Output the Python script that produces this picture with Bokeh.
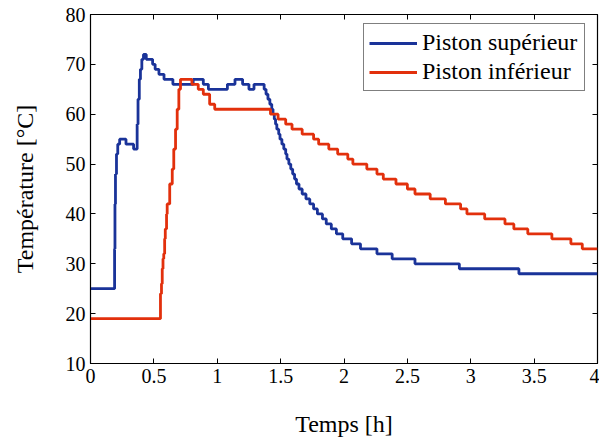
from bokeh.plotting import figure
from bokeh.models import FixedTicker, LinearAxis, Range1d, Legend, LegendItem
from bokeh.embed import file_html
from bokeh.resources import INLINE

# ---- data (time in hours, temperature in °C) ----
blue_t = [0, 0.19, 0.193, 0.197, 0.205, 0.215, 0.23, 0.28, 0.34, 0.368, 0.375, 0.385,
          0.394, 0.405, 0.418, 0.44, 0.49, 0.51, 0.54, 0.58, 0.65, 0.81, 0.89, 0.93,
          1.08, 1.14, 1.20, 1.25, 1.29, 1.37, 1.385, 1.40, 1.415, 1.43, 1.44,
          1.45, 1.46, 1.47, 1.485, 1.495, 1.51, 1.525, 1.54, 1.55, 1.565, 1.58, 1.595,
          1.61, 1.625, 1.645, 1.67, 1.70, 1.73, 1.76, 1.79, 1.83, 1.86, 1.90, 1.94,
          1.99, 2.06, 2.13, 2.26, 2.38, 2.56, 2.91, 3.38, 4.0]
blue_temp = [25, 33, 42, 48, 52, 54, 55, 54, 53, 58, 63, 67,
             69, 71, 72, 71, 70, 69, 68, 67, 66, 67, 66, 65,
             66, 67, 66, 65, 66, 65, 64, 63, 62, 61, 60,
             59, 58, 57, 56, 55, 54, 53, 52, 51, 50, 49, 48,
             47, 46, 45, 44, 43, 42, 41, 40, 39, 38, 37, 36,
             35, 34, 33, 32, 31, 30, 29, 28, 28]

red_t = [0, 0.552, 0.56, 0.566, 0.572, 0.578, 0.585, 0.59, 0.60, 0.605, 0.625, 0.645,
         0.657, 0.671, 0.684, 0.697, 0.71, 0.80, 0.85, 0.89, 0.94, 0.98, 1.42, 1.48,
         1.54, 1.59, 1.67, 1.76, 1.80, 1.88, 1.95, 2.03, 2.07, 2.18, 2.26, 2.31, 2.41,
         2.50, 2.56, 2.68, 2.80, 2.92, 2.97, 3.11, 3.27, 3.34, 3.45, 3.64, 3.79, 3.88, 4.0]
red_temp = [19, 24, 26, 29, 31, 32, 35, 37, 40, 42, 46, 49,
            53, 57, 61, 65, 67, 66, 65, 64, 62, 61, 60, 59,
            58, 57, 56, 55, 54, 53, 52, 51, 50, 49, 48, 47, 46,
            45, 44, 43, 42, 41, 40, 39, 38, 37, 36, 35, 34, 33, 33]

x_ticks = [0, 0.5, 1, 1.5, 2, 2.5, 3, 3.5, 4]
x_tick_labels = ["0", "0.5", "1", "1.5", "2", "2.5", "3", "3.5", "4"]
y_ticks = [10, 20, 30, 40, 50, 60, 70, 80]
series_names = ["Piston supérieur", "Piston inférieur"]
x_label = "Temps [h]"
y_label = "Température [°C]"

BLUE = "#1a3399"
RED = "#e2300c"
FONT = "Liberation Serif"

p = figure(width=599, height=439, output_backend="svg", toolbar_location=None,
           x_range=Range1d(0, 4), y_range=Range1d(10, 80),
           min_border_left=90, min_border_right=2, min_border_top=14, min_border_bottom=75)
p.background_fill_color = "white"
p.border_fill_color = "white"
p.outline_line_color = "black"
p.outline_line_width = 1.2
p.xgrid.visible = False
p.ygrid.visible = False

r_blue = p.step(blue_t, blue_temp, mode="after", line_color=BLUE, line_width=2.8)
r_red = p.step(red_t, red_temp, mode="after", line_color=RED, line_width=2.8)

for ax in (p.xaxis[0], p.yaxis[0]):
    ax.major_tick_in = 5
    ax.major_tick_out = 0
    ax.minor_tick_line_color = None
    ax.axis_line_color = "black"
    ax.major_label_text_font = FONT
    ax.major_label_text_font_size = "20px"
    ax.major_label_text_color = "black"
    ax.axis_label_text_font = FONT
    ax.axis_label_text_font_size = "24px"
    ax.axis_label_text_font_style = "normal"
    ax.axis_label_text_color = "black"

p.xaxis[0].ticker = FixedTicker(ticks=x_ticks)
p.xaxis[0].major_label_overrides = {t: l for t, l in zip(x_ticks, x_tick_labels)}
p.xaxis[0].major_label_standoff = 5
p.xaxis[0].axis_label = x_label
p.xaxis[0].axis_label_standoff = 25

p.yaxis[0].ticker = FixedTicker(ticks=y_ticks)
p.yaxis[0].major_label_standoff = 5
p.yaxis[0].axis_label = y_label
p.yaxis[0].axis_label_standoff = 25

# mirrored ticks (box style), no labels
right_ax = LinearAxis(ticker=FixedTicker(ticks=y_ticks), major_tick_in=5, major_tick_out=0,
                      minor_tick_line_color=None, axis_line_color=None,
                      major_label_text_color=None, major_label_text_font_size="1px",
                      major_label_standoff=0)
top_ax = LinearAxis(ticker=FixedTicker(ticks=x_ticks), major_tick_in=5, major_tick_out=0,
                    minor_tick_line_color=None, axis_line_color=None,
                    major_label_text_color=None, major_label_text_font_size="1px",
                    major_label_standoff=0)
p.add_layout(right_ax, "right")
p.add_layout(top_ax, "above")

legend = Legend(items=[LegendItem(label=series_names[0], renderers=[r_blue]),
                       LegendItem(label=series_names[1], renderers=[r_red])],
                location=(273, 272))
legend.label_text_font = FONT
legend.label_text_font_size = "24px"
legend.label_text_color = "black"
legend.border_line_color = "black"
legend.border_line_width = 1
legend.background_fill_alpha = 1
legend.padding = 5
legend.spacing = 2
legend.glyph_width = 48
legend.glyph_height = 26
legend.label_height = 26
legend.label_width = 157
legend.label_standoff = 5
legend.margin = 0
p.add_layout(legend, "center")

open("out.html", "w").write(file_html(p, INLINE))
